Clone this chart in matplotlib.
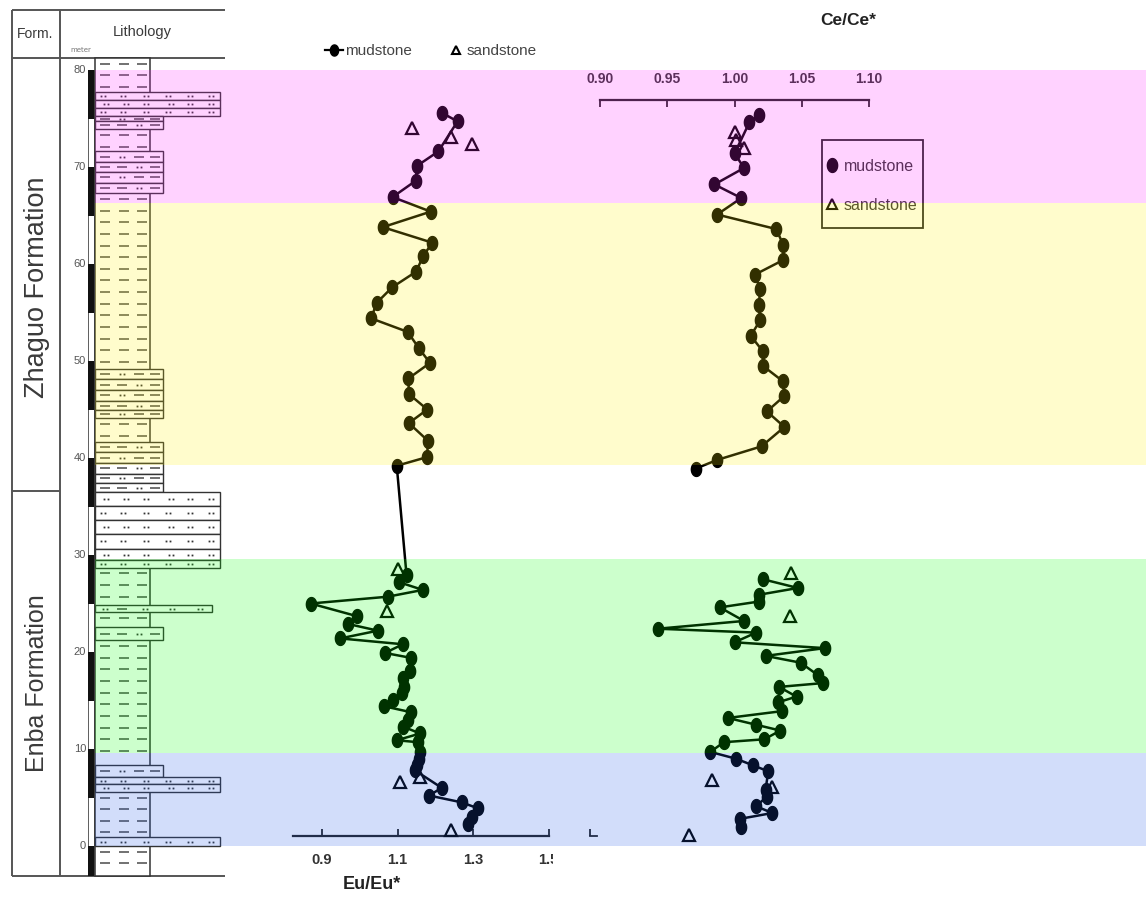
import numpy as np
import matplotlib
matplotlib.use('Agg')
import matplotlib.pyplot as plt
from matplotlib.path import Path
from matplotlib.patches import Rectangle
from matplotlib.lines import Line2D

W, H = 1146, 899
Y0, PX_PER_M = 846.0, 9.7   # pixel row of 0 m and pixels per metre


def depth_at(y):
    return (Y0 - y) / PX_PER_M


def fig_rect(x0, y0, x1, y1):
    return [x0 / W, 1 - y1 / H, (x1 - x0) / W, (y1 - y0) / H]


# DATA ########################################################################

# Eu/Eu* of mudstone samples (m, value)
eu_mud_depth = [75.6, 74.7, 71.6, 70.1, 68.6, 66.9, 65.4, 63.8, 62.2, 60.8,
                59.2, 57.6, 56.0, 54.4, 53.0, 51.3, 49.8, 48.2, 46.6, 45.0,
                43.6, 41.8, 40.1, 39.2,
                27.9, 27.2, 26.4, 25.7, 25.0, 23.7, 22.9, 22.2, 21.4, 20.8,
                19.9, 19.4, 18.0, 17.3, 16.4, 15.8, 15.1, 14.4, 13.8, 13.0,
                12.3, 11.6, 10.9, 10.7, 9.7, 9.0, 8.4, 7.8, 6.0, 5.2,
                4.5, 3.9, 3.0, 2.3]
eu_mud = [1.217, 1.259, 1.208, 1.151, 1.149, 1.087, 1.188, 1.061, 1.192, 1.168,
          1.149, 1.086, 1.045, 1.030, 1.127, 1.157, 1.186, 1.129, 1.130, 1.179,
          1.130, 1.180, 1.179, 1.098,
          1.124, 1.104, 1.167, 1.074, 0.870, 0.992, 0.968, 1.048, 0.948, 1.114,
          1.067, 1.135, 1.133, 1.115, 1.117, 1.111, 1.089, 1.065, 1.135, 1.129,
          1.115, 1.160, 1.098, 1.155, 1.160, 1.158, 1.151, 1.146, 1.217, 1.184,
          1.270, 1.312, 1.297, 1.286]

eu_sand_depth = [74.0, 73.1, 72.4, 28.6, 24.2, 7.1, 6.6, 1.7]
eu_sand = [1.138, 1.242, 1.297, 1.102, 1.071, 1.160, 1.107, 1.242]

# Ce/Ce*, two separate mudstone runs
ce_mud_depth_up = [75.4, 74.6, 71.4, 69.9, 68.2, 66.8, 65.1, 63.6, 62.0, 60.4,
                   58.9, 57.4, 55.8, 54.2, 52.6, 51.0, 49.5, 47.9, 46.4, 44.8,
                   43.2, 41.2, 39.8, 38.9]
ce_mud_up = [1.018, 1.011, 1.000, 1.007, 0.985, 1.005, 0.987, 1.031, 1.036, 1.036,
             1.015, 1.019, 1.018, 1.019, 1.012, 1.021, 1.021, 1.036, 1.037, 1.024,
             1.037, 1.020, 0.987, 0.971]
ce_mud_depth_low = [27.5, 26.6, 25.9, 25.2, 24.6, 23.2, 22.4, 22.0, 21.0, 20.4,
                    19.6, 18.9, 17.6, 16.8, 16.4, 15.4, 14.8, 13.9, 13.2, 12.5,
                    11.9, 11.0, 10.7, 9.7, 9.0, 8.3, 7.7, 5.8, 5.1, 4.1,
                    3.4, 2.8, 2.0]
ce_mud_low = [1.021, 1.047, 1.018, 1.018, 0.989, 1.007, 0.943, 1.016, 1.000, 1.067,
              1.023, 1.049, 1.062, 1.066, 1.033, 1.046, 1.032, 1.035, 0.995, 1.016,
              1.034, 1.022, 0.992, 0.982, 1.001, 1.014, 1.025, 1.023, 1.024, 1.016,
              1.028, 1.004, 1.005]

ce_sand_depth = [73.6, 72.8, 72.0, 28.1, 23.7, 6.8, 6.1, 1.1]
ce_sand = [1.000, 1.001, 1.007, 1.042, 1.041, 0.983, 1.028, 0.966]

eu_ticks = [0.9, 1.1, 1.3, 1.5]
ce_ticks = [0.90, 0.95, 1.00, 1.05, 1.10]
depth_ticks = list(range(0, 81, 10))

# coloured intervals (top, bottom)
band_top = [80.0, 66.3, 29.6, 9.6]
band_bottom = [66.3, 39.3, 9.6, 0.0]
band_color = ['#ff1fff', '#fff000', '#00ff00', '#1f59e6']

# lithology beds that break the mudstone column (top, bottom, kind)
bed_top = [77.7, 76.9, 76.1, 75.3, 74.7,
           71.6, 70.5, 69.5, 68.4,
           49.2, 48.1, 47.0, 45.9, 44.9,
           41.7, 40.6, 39.5, 38.4, 37.4,
           36.5, 35.1, 33.6, 32.2, 30.6, 29.5,
           24.8, 22.6, 8.4, 7.1, 6.35, 0.9]
bed_bottom = [76.9, 76.1, 75.3, 74.7, 73.9,
              70.5, 69.5, 68.4, 67.3,
              48.1, 47.0, 45.9, 44.9, 44.1,
              40.6, 39.5, 38.4, 37.4, 36.5,
              35.1, 33.6, 32.2, 30.6, 29.5, 28.7,
              24.1, 21.2, 7.1, 6.35, 5.6, 0.0]
bed_kind = ['sand', 'sand', 'sand', 'silt', 'silt',
            'silt', 'silt', 'silt', 'silt',
            'silt', 'silt', 'silt', 'silt', 'silt',
            'silt', 'silt', 'silt', 'silt', 'silt',
            'sand', 'sand', 'sand', 'sand', 'sand', 'sand',
            'mixed', 'silt', 'silt', 'sand', 'sand', 'sand']

formations = ['Zhaguo Formation', 'Enba Formation']


# STYLE #######################################################################

FONT = ['Liberation Sans']
TEXT_GRAY = '#3a3a3a'
INK = '#222222'

theta = np.linspace(0, 2 * np.pi, 41)
ELLIPSE = Path(np.column_stack([0.74 * np.cos(theta), np.sin(theta)]), closed=True)

COL_LEFT, COL_MUD, COL_SILT, COL_MIX, COL_SAND = 95, 150, 163, 212, 220
COL_TOP, COL_BOTTOM = depth_at(58), depth_at(876)


# FIGURE ######################################################################

fig = plt.figure(figsize=(W / 100, H / 100), dpi=100)
fig.patch.set_facecolor('white')

# --- lithology column -------------------------------------------------------
ax_l = fig.add_axes(fig_rect(0, 0, 230, H))
ax_l.set_xlim(0, 230)
ax_l.set_ylim(depth_at(H), depth_at(0))
ax_l.axis('off')

frame_kw = dict(color='#555555', lw=1.4, solid_capstyle='butt')
for yy in (10, 58, 876):
    ax_l.plot([12, 225], [depth_at(yy)] * 2, **frame_kw)
for xx in (12, 60):
    ax_l.plot([xx, xx], [depth_at(10), depth_at(876)], **frame_kw)
ax_l.plot([12, 60], [depth_at(491)] * 2, **frame_kw)

ax_l.text(35, depth_at(34), 'Form.', ha='center', va='center',
          fontsize=10, color=TEXT_GRAY, family=FONT)
ax_l.text(142, depth_at(32), 'Lithology', ha='center', va='center',
          fontsize=10.5, color=TEXT_GRAY, family=FONT)
ax_l.text(81, depth_at(50), 'meter', ha='center', va='center',
          fontsize=5, color='#777777')

ax_l.text(37, depth_at(287), formations[0], rotation=90, ha='center',
          va='center', fontsize=19.5, color=TEXT_GRAY, family=FONT)
ax_l.text(37, depth_at(683), formations[1], rotation=90, ha='center',
          va='center', fontsize=18, color=TEXT_GRAY, family=FONT)

for d in depth_ticks:
    ax_l.text(86, d, str(d), ha='right', va='center', fontsize=8,
              color='#555555', family=FONT)

# metre scale bar: black every other 5 m
ax_l.add_patch(Rectangle((88, COL_BOTTOM), 6, 80 - COL_BOTTOM, fc='white',
                         ec='#444444', lw=0.6, zorder=2))
for d in depth_ticks:
    ax_l.add_patch(Rectangle((88, max(d - 5, COL_BOTTOM)), 6,
                             d - max(d - 5, COL_BOTTOM), fc='#111111',
                             ec='none', zorder=3))

# mudstone background column
ax_l.add_patch(Rectangle((COL_LEFT, COL_BOTTOM), COL_MUD - COL_LEFT,
                         COL_TOP - COL_BOTTOM, fc='white', ec='#333333',
                         lw=1.1, zorder=2))


def dash_row(y, xs):
    ax_l.plot(xs, [y] * len(xs), ls='none', marker='_', ms=7, mew=1.1,
              color='#4a4a4a', zorder=5)


def dot_row(y, xs):
    pts = [x + s for x in xs for s in (-1.8, 1.8)]
    ax_l.plot(pts, [y] * len(pts), ls='none', marker='s', ms=1.3, mew=0,
              color='#333333', zorder=5)


# mudstone dashes in the gaps between beds
edges = sorted(zip(bed_top, bed_bottom), reverse=True)
gap_top = COL_TOP
gaps = []
for t, b in edges:
    if gap_top - t > 0.05:
        gaps.append((gap_top, t))
    gap_top = b
gaps.append((gap_top, COL_BOTTOM))
for hi, lo in gaps:
    y = hi - 0.6
    while y > lo + 0.3:
        dash_row(y, [105, 124, 142])
        y -= 1.2

right_edge = {'sand': COL_SAND, 'silt': COL_SILT, 'mixed': COL_MIX}
for i, (t, b, kind) in enumerate(zip(bed_top, bed_bottom, bed_kind)):
    ax_l.add_patch(Rectangle((COL_LEFT, b), right_edge[kind] - COL_LEFT, t - b,
                             fc='white', ec='#333333', lw=1.0, zorder=4))
    mid = (t + b) / 2
    if kind == 'sand':
        off = 3 if i % 2 else 0
        dot_row(mid, [103 + off, 123 + off, 146, 168 + off, 190, 211])
    elif kind == 'silt':
        if i % 2:
            dash_row(mid, [105, 139, 155])
            dot_row(mid, [122])
        else:
            dash_row(mid, [105, 122, 155])
            dot_row(mid, [139])
    else:
        dash_row(mid, [122])
        dot_row(mid, [105, 145, 172, 200])

# --- Eu/Eu* panel -------------------------------------------------------------
EU_L, EU_R = 230, 551
eu_scale = 377.5
ax_eu = fig.add_axes(fig_rect(EU_L, 60, EU_R, 836))
ax_eu.set_xlim(0.9 - (322 - EU_L) / eu_scale, 0.9 + (EU_R - 322) / eu_scale)
ax_eu.set_ylim(depth_at(836), depth_at(60))
ax_eu.patch.set_alpha(0)
for s in ('top', 'left', 'right'):
    ax_eu.spines[s].set_visible(False)
ax_eu.spines['bottom'].set_bounds(0.823, 1.5)
ax_eu.spines['bottom'].set_linewidth(1.6)
ax_eu.spines['bottom'].set_color(INK)
ax_eu.set_yticks([])
ax_eu.set_xticks(eu_ticks)
ax_eu.set_xticklabels([f'{v:.1f}' for v in eu_ticks])
ax_eu.tick_params(axis='x', direction='in', length=5, width=1.3, color=INK,
                  pad=12, labelsize=10.5)
for lab in ax_eu.get_xticklabels():
    lab.set_family(FONT)
    lab.set_fontweight('bold')
    lab.set_color('#333333')
ax_eu.set_xlabel('Eu/Eu*', fontsize=13, fontweight='bold', family=FONT,
                 color='#222222')
ax_eu.xaxis.set_label_coords((372 - EU_L) / (EU_R - EU_L), (836 - 876) / 776)

ax_eu.plot(eu_mud, eu_mud_depth, color='black', lw=1.8, marker=ELLIPSE,
           ms=10, mfc='black', mec='black', clip_on=False, zorder=3)
ax_eu.plot(eu_sand, eu_sand_depth, ls='none', marker='^', ms=9, mfc='none',
           mec='black', mew=1.6, clip_on=False, zorder=3)

# the Ce panel sits over the right end of the Eu scale
fig.add_artist(Rectangle((553 / W, 1 - 875 / H), 38 / W, 26 / H,
                         transform=fig.transFigure, fc='white', ec='none',
                         zorder=2))

# --- Ce/Ce* panel -------------------------------------------------------------
CE_L, CE_R = 551, W
ce_scale = 1346.0
ax_ce = fig.add_axes(fig_rect(CE_L, 100, CE_R, 836))
ax_ce.set_xlim(0.9 - (600 - CE_L) / ce_scale, 0.9 + (CE_R - 600) / ce_scale)
ax_ce.set_ylim(depth_at(836), depth_at(100))
ax_ce.set_facecolor('white')
for s in ('left', 'right', 'bottom'):
    ax_ce.spines[s].set_visible(False)
ax_ce.spines['top'].set_bounds(0.90, 1.10)
ax_ce.spines['top'].set_linewidth(1.6)
ax_ce.spines['top'].set_color(INK)
ax_ce.set_yticks([])
ax_ce.xaxis.set_ticks_position('top')
ax_ce.xaxis.set_label_position('top')
ax_ce.set_xticks(ce_ticks)
ax_ce.set_xticklabels([f'{v:.2f}' for v in ce_ticks])
ax_ce.tick_params(axis='x', direction='in', length=5, width=1.3, color=INK,
                  pad=10, labelsize=10)
for lab in ax_ce.get_xticklabels():
    lab.set_family(FONT)
    lab.set_fontweight('bold')
    lab.set_color('#333333')
ax_ce.set_xlabel('Ce/Ce*', fontsize=12.5, fontweight='bold', family=FONT,
                 labelpad=34, color='#222222')

# stub of the lower Ce scale
ce_stub = ax_ce.secondary_xaxis('bottom')
ce_stub.set_xticks([0.8926])
ce_stub.set_xticklabels([''])
ce_stub.tick_params(direction='in', length=5, width=1.3, color=INK)
ce_stub.spines['bottom'].set_bounds(0.8926, 0.8975)
ce_stub.spines['bottom'].set_linewidth(1.3)
ce_stub.spines['bottom'].set_color(INK)

for vals, depths in ((ce_mud_up, ce_mud_depth_up), (ce_mud_low, ce_mud_depth_low)):
    ax_ce.plot(vals, depths, color='black', lw=1.8, marker=ELLIPSE, ms=10,
               mfc='black', mec='black', clip_on=False, zorder=3)
ax_ce.plot(ce_sand, ce_sand_depth, ls='none', marker='^', ms=9, mfc='none',
           mec='black', mew=1.6, clip_on=False, zorder=3)

# legend inside the Ce panel, framed separately for its tall box
ax_ce.add_patch(Rectangle((822 / W, 1 - 228 / H), 101 / W, 88 / H,
                          transform=fig.transFigure, fill=False, ec='#222222',
                          lw=1.3, zorder=4))
leg_in = ax_ce.legend(
    [Line2D([], [], ls='none', marker=ELLIPSE, ms=10, color='black'),
     Line2D([], [], ls='none', marker='^', ms=6.5, mfc='none', mec='black', mew=1.5)],
    ['mudstone', 'sandstone'], loc='center',
    bbox_to_anchor=(872 / W, 1 - 186 / H), bbox_transform=fig.transFigure,
    frameon=False, handlelength=0.6, handletextpad=0.45,
    labelspacing=1.5, borderpad=0, borderaxespad=0, prop={'size': 11.5})
for txt in leg_in.get_texts():
    txt.set_color('#333333')
    txt.set_family(FONT)

# --- coloured intervals laid over everything ----------------------------------
ax_b = fig.add_axes(fig_rect(COL_LEFT, 0, W, H))
ax_b.set_xlim(0, 1)
ax_b.set_ylim(depth_at(H), depth_at(0))
ax_b.axis('off')
for t, b, c in zip(band_top, band_bottom, band_color):
    ax_b.axhspan(b, t, color=c, alpha=0.2, lw=0)

# --- top legend --------------------------------------------------------------
leg_top = fig.legend(
    [Line2D([], [], color='black', lw=1.6, marker=ELLIPSE, ms=8),
     Line2D([], [], ls='none', marker='^', ms=6, mfc='none', mec='black', mew=1.5)],
    ['mudstone', 'sandstone'], loc='center left',
    bbox_to_anchor=(311 / W, 1 - 51 / H), ncol=2, frameon=False,
    handlelength=1.2, handletextpad=0.1, columnspacing=2.3, prop={'size': 11})
for txt in leg_top.get_texts():
    txt.set_color('#444444')
    txt.set_family(FONT)

fig.savefig('out.png', dpi=100, facecolor='white')
